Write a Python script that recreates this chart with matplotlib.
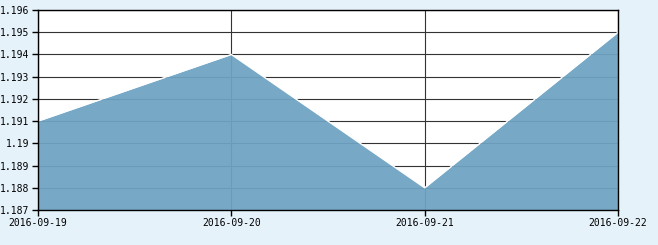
import matplotlib
matplotlib.use("Agg")
import matplotlib.pyplot as plt

dates = ["2016-09-19", "2016-09-20", "2016-09-21", "2016-09-22"]
values = [1.191, 1.194, 1.188, 1.195]
yticks = [1.187, 1.188, 1.189, 1.19, 1.191, 1.192, 1.193, 1.194, 1.195, 1.196]
ytick_labels = ["1.187", "1.188", "1.189", "1.19", "1.191", "1.192", "1.193", "1.194", "1.195", "1.196"]

bg = "#e6f2fa"
fig = plt.figure(figsize=(6.58, 2.45), dpi=100, facecolor=bg)
ax = fig.add_axes([38 / 658, 35 / 245, 580 / 658, 200 / 245])
ax.set_facecolor("white")

x = list(range(len(dates)))
ax.grid(True, color="#333333", linewidth=0.8, zorder=1)
ax.fill_between(x, values, 1.187, color="#6ea4c4", alpha=0.94, linewidth=0, zorder=2)
ax.plot(x, values, color="white", linewidth=1.0, zorder=3)

ax.set_xlim(0, len(dates) - 1)
ax.set_ylim(1.187, 1.196)
ax.set_xticks(x)
ax.set_xticklabels(dates)
ax.set_yticks(yticks)
ax.set_yticklabels(ytick_labels)
ax.tick_params(direction="out", length=4, width=1, color="black",
               labelsize=7, pad=2)
for lab in ax.get_xticklabels() + ax.get_yticklabels():
    lab.set_family("DejaVu Sans Mono")
for s in ax.spines.values():
    s.set_color("black")
    s.set_linewidth(1)
    s.set_zorder(4)

fig.savefig("out.png", dpi=100, facecolor=bg)
